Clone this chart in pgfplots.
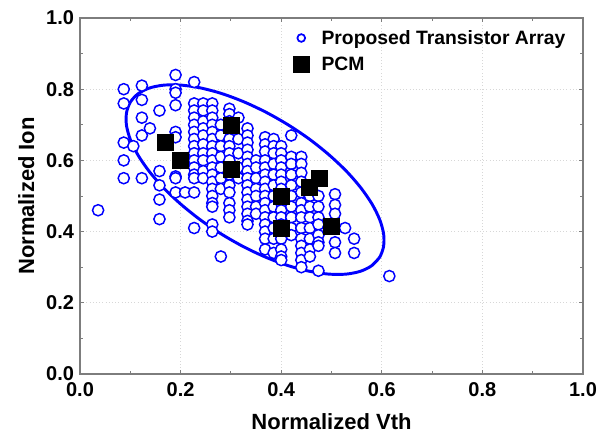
\documentclass[border=0pt]{standalone}
\usepackage{pgfplots}
\pgfplotsset{compat=1.18}
\usepackage{fontspec}
\setmainfont{Liberation Sans}
\definecolor{myblue}{RGB}{0,0,255}
\definecolor{framegray}{RGB}{125,125,125}
\definecolor{gridgray}{RGB}{215,215,215}
\begin{document}
\begin{tikzpicture}
\begin{axis}[
  scale only axis,
  width=377.25pt, height=267pt,
  xmin=0, xmax=1, ymin=0, ymax=1,
  xtick={0,0.2,...,1.0}, ytick={0,0.2,...,1.0},
  minor tick num=1,
  tick align=inside,
  major tick length=3pt, minor tick length=2pt,
  tick style={framegray, line width=0.6pt},
  axis line style={framegray, line width=1.1pt},
  grid=major,
  major grid style={gridgray, dotted, line width=0.6pt},
  /pgf/number format/assume math mode=true,
  /pgf/number format/fixed, /pgf/number format/fixed zerofill,
  /pgf/number format/precision=1,
  ticklabel style={font=\fontsize{15}{17}\selectfont\bfseries},
  xticklabel style={yshift=-3pt},
  yticklabel style={xshift=-1pt},
  xlabel={Normalized Vth}, ylabel={Normalized Ion},
  label style={font=\fontsize{16.5}{19}\selectfont\bfseries},
  xlabel style={yshift=-6pt},
  ylabel style={yshift=2pt},
  legend style={at={(0.415,0.982)}, anchor=north west, draw=none, fill=none,
     font=\fontsize{14.5}{17}\selectfont\bfseries, row sep=4pt,
     /tikz/every odd column/.append style={column sep=7pt}},
  legend cell align=left,
  clip=false,
]
\addplot[only marks, mark=*, mark size=4.2pt, mark options={draw=myblue, fill=white, line width=1.1pt},
  legend image code/.code={\draw[myblue, fill=white, line width=1.3pt] (0.3cm,0cm) circle (2.9pt);}]
table {
x y
0.036 0.46
0.087 0.80
0.087 0.76
0.087 0.65
0.087 0.60
0.087 0.55
0.106 0.64
0.123 0.81
0.123 0.77
0.123 0.72
0.123 0.67
0.123 0.55
0.139 0.69
0.158 0.74
0.158 0.57
0.158 0.53
0.158 0.49
0.158 0.435
0.19 0.84
0.19 0.80
0.19 0.79
0.19 0.755
0.19 0.68
0.19 0.665
0.19 0.555
0.19 0.55
0.19 0.51
0.209 0.51
0.227 0.82
0.227 0.76
0.227 0.74
0.227 0.72
0.227 0.70
0.227 0.68
0.227 0.66
0.227 0.64
0.227 0.62
0.227 0.60
0.227 0.58
0.227 0.56
0.227 0.55
0.227 0.51
0.227 0.41
0.245 0.76
0.245 0.74
0.245 0.71
0.245 0.69
0.245 0.67
0.245 0.645
0.245 0.62
0.245 0.60
0.245 0.57
0.245 0.55
0.263 0.76
0.263 0.74
0.263 0.72
0.263 0.70
0.263 0.68
0.263 0.66
0.263 0.64
0.263 0.62
0.263 0.60
0.263 0.58
0.263 0.56
0.263 0.54
0.263 0.52
0.263 0.50
0.263 0.48
0.263 0.47
0.263 0.42
0.263 0.40
0.28 0.70
0.28 0.67
0.28 0.64
0.28 0.61
0.28 0.58
0.28 0.55
0.28 0.52
0.28 0.33
0.297 0.745
0.297 0.73
0.297 0.71
0.297 0.69
0.297 0.66
0.297 0.64
0.297 0.62
0.297 0.60
0.297 0.58
0.297 0.56
0.297 0.53
0.297 0.51
0.297 0.48
0.297 0.46
0.297 0.44
0.315 0.72
0.315 0.66
0.315 0.62
0.315 0.58
0.315 0.55
0.333 0.69
0.333 0.67
0.333 0.65
0.333 0.63
0.333 0.61
0.333 0.59
0.333 0.57
0.333 0.55
0.333 0.53
0.333 0.51
0.333 0.49
0.333 0.47
0.333 0.45
0.333 0.43
0.333 0.42
0.35 0.60
0.35 0.58
0.35 0.55
0.35 0.52
0.35 0.50
0.35 0.47
0.35 0.45
0.368 0.665
0.368 0.645
0.368 0.625
0.368 0.60
0.368 0.58
0.368 0.56
0.368 0.54
0.368 0.52
0.368 0.50
0.368 0.48
0.368 0.46
0.368 0.44
0.368 0.42
0.368 0.40
0.368 0.38
0.368 0.35
0.385 0.66
0.385 0.64
0.385 0.62
0.385 0.59
0.385 0.56
0.385 0.53
0.385 0.50
0.385 0.47
0.385 0.44
0.385 0.41
0.385 0.38
0.385 0.34
0.40 0.64
0.40 0.62
0.40 0.60
0.40 0.58
0.40 0.56
0.40 0.54
0.40 0.52
0.40 0.48
0.40 0.46
0.40 0.44
0.40 0.42
0.40 0.40
0.40 0.38
0.40 0.35
0.40 0.33
0.40 0.32
0.42 0.67
0.42 0.61
0.42 0.59
0.42 0.56
0.42 0.53
0.42 0.50
0.42 0.47
0.42 0.44
0.42 0.41
0.42 0.39
0.44 0.61
0.44 0.59
0.44 0.565
0.44 0.54
0.44 0.51
0.44 0.48
0.44 0.46
0.44 0.44
0.44 0.41
0.44 0.38
0.44 0.36
0.44 0.34
0.44 0.32
0.44 0.30
0.457 0.52
0.457 0.50
0.457 0.47
0.457 0.44
0.457 0.41
0.457 0.38
0.457 0.35
0.457 0.33
0.474 0.50
0.474 0.47
0.474 0.44
0.474 0.42
0.474 0.39
0.474 0.37
0.474 0.36
0.474 0.29
0.507 0.505
0.507 0.475
0.507 0.45
0.507 0.41
0.507 0.37
0.507 0.34
0.527 0.41
0.545 0.38
0.545 0.34
0.615 0.275
};
\addlegendentry{Proposed Transistor Array}
\addplot[myblue, line width=2.2pt, smooth, tension=0.5, forget plot]
table {
x y
0.5955 0.3275
0.5800 0.3043
0.5575 0.2885
0.5286 0.2805
0.4943 0.2806
0.4555 0.2887
0.4134 0.3046
0.3693 0.3280
0.3246 0.3579
0.2806 0.3935
0.2386 0.4337
0.2001 0.4774
0.1658 0.5232
0.1373 0.5697
0.1151 0.6154
0.1000 0.6589
0.0923 0.6991
0.0926 0.7347
0.1005 0.7645
0.1160 0.7877
0.1385 0.8035
0.1674 0.8115
0.2017 0.8114
0.2405 0.8033
0.2826 0.7874
0.3267 0.7640
0.3714 0.7341
0.4154 0.6985
0.4574 0.6583
0.4959 0.6146
0.5302 0.5688
0.5587 0.5223
0.5809 0.4766
0.5960 0.4331
0.6037 0.3929
0.6034 0.3573
0.5955 0.3275
0.5800 0.3043
};
\addplot[only marks, mark=square*, mark size=6pt, mark options={draw=black, fill=black},
  legend image code/.code={\fill[black] (0.3cm-6pt,-6pt) rectangle (0.3cm+6pt,6pt);}]
table {
x y
0.17 0.65
0.20 0.60
0.30 0.70
0.30 0.575
0.40 0.50
0.40 0.41
0.455 0.525
0.475 0.55
0.50 0.415
};
\addlegendentry{PCM}
\end{axis}
\path (current axis.south west) ++(-60pt,-48pt) (current axis.north east) ++(18.75pt,13.5pt);
\end{tikzpicture}
\end{document}
